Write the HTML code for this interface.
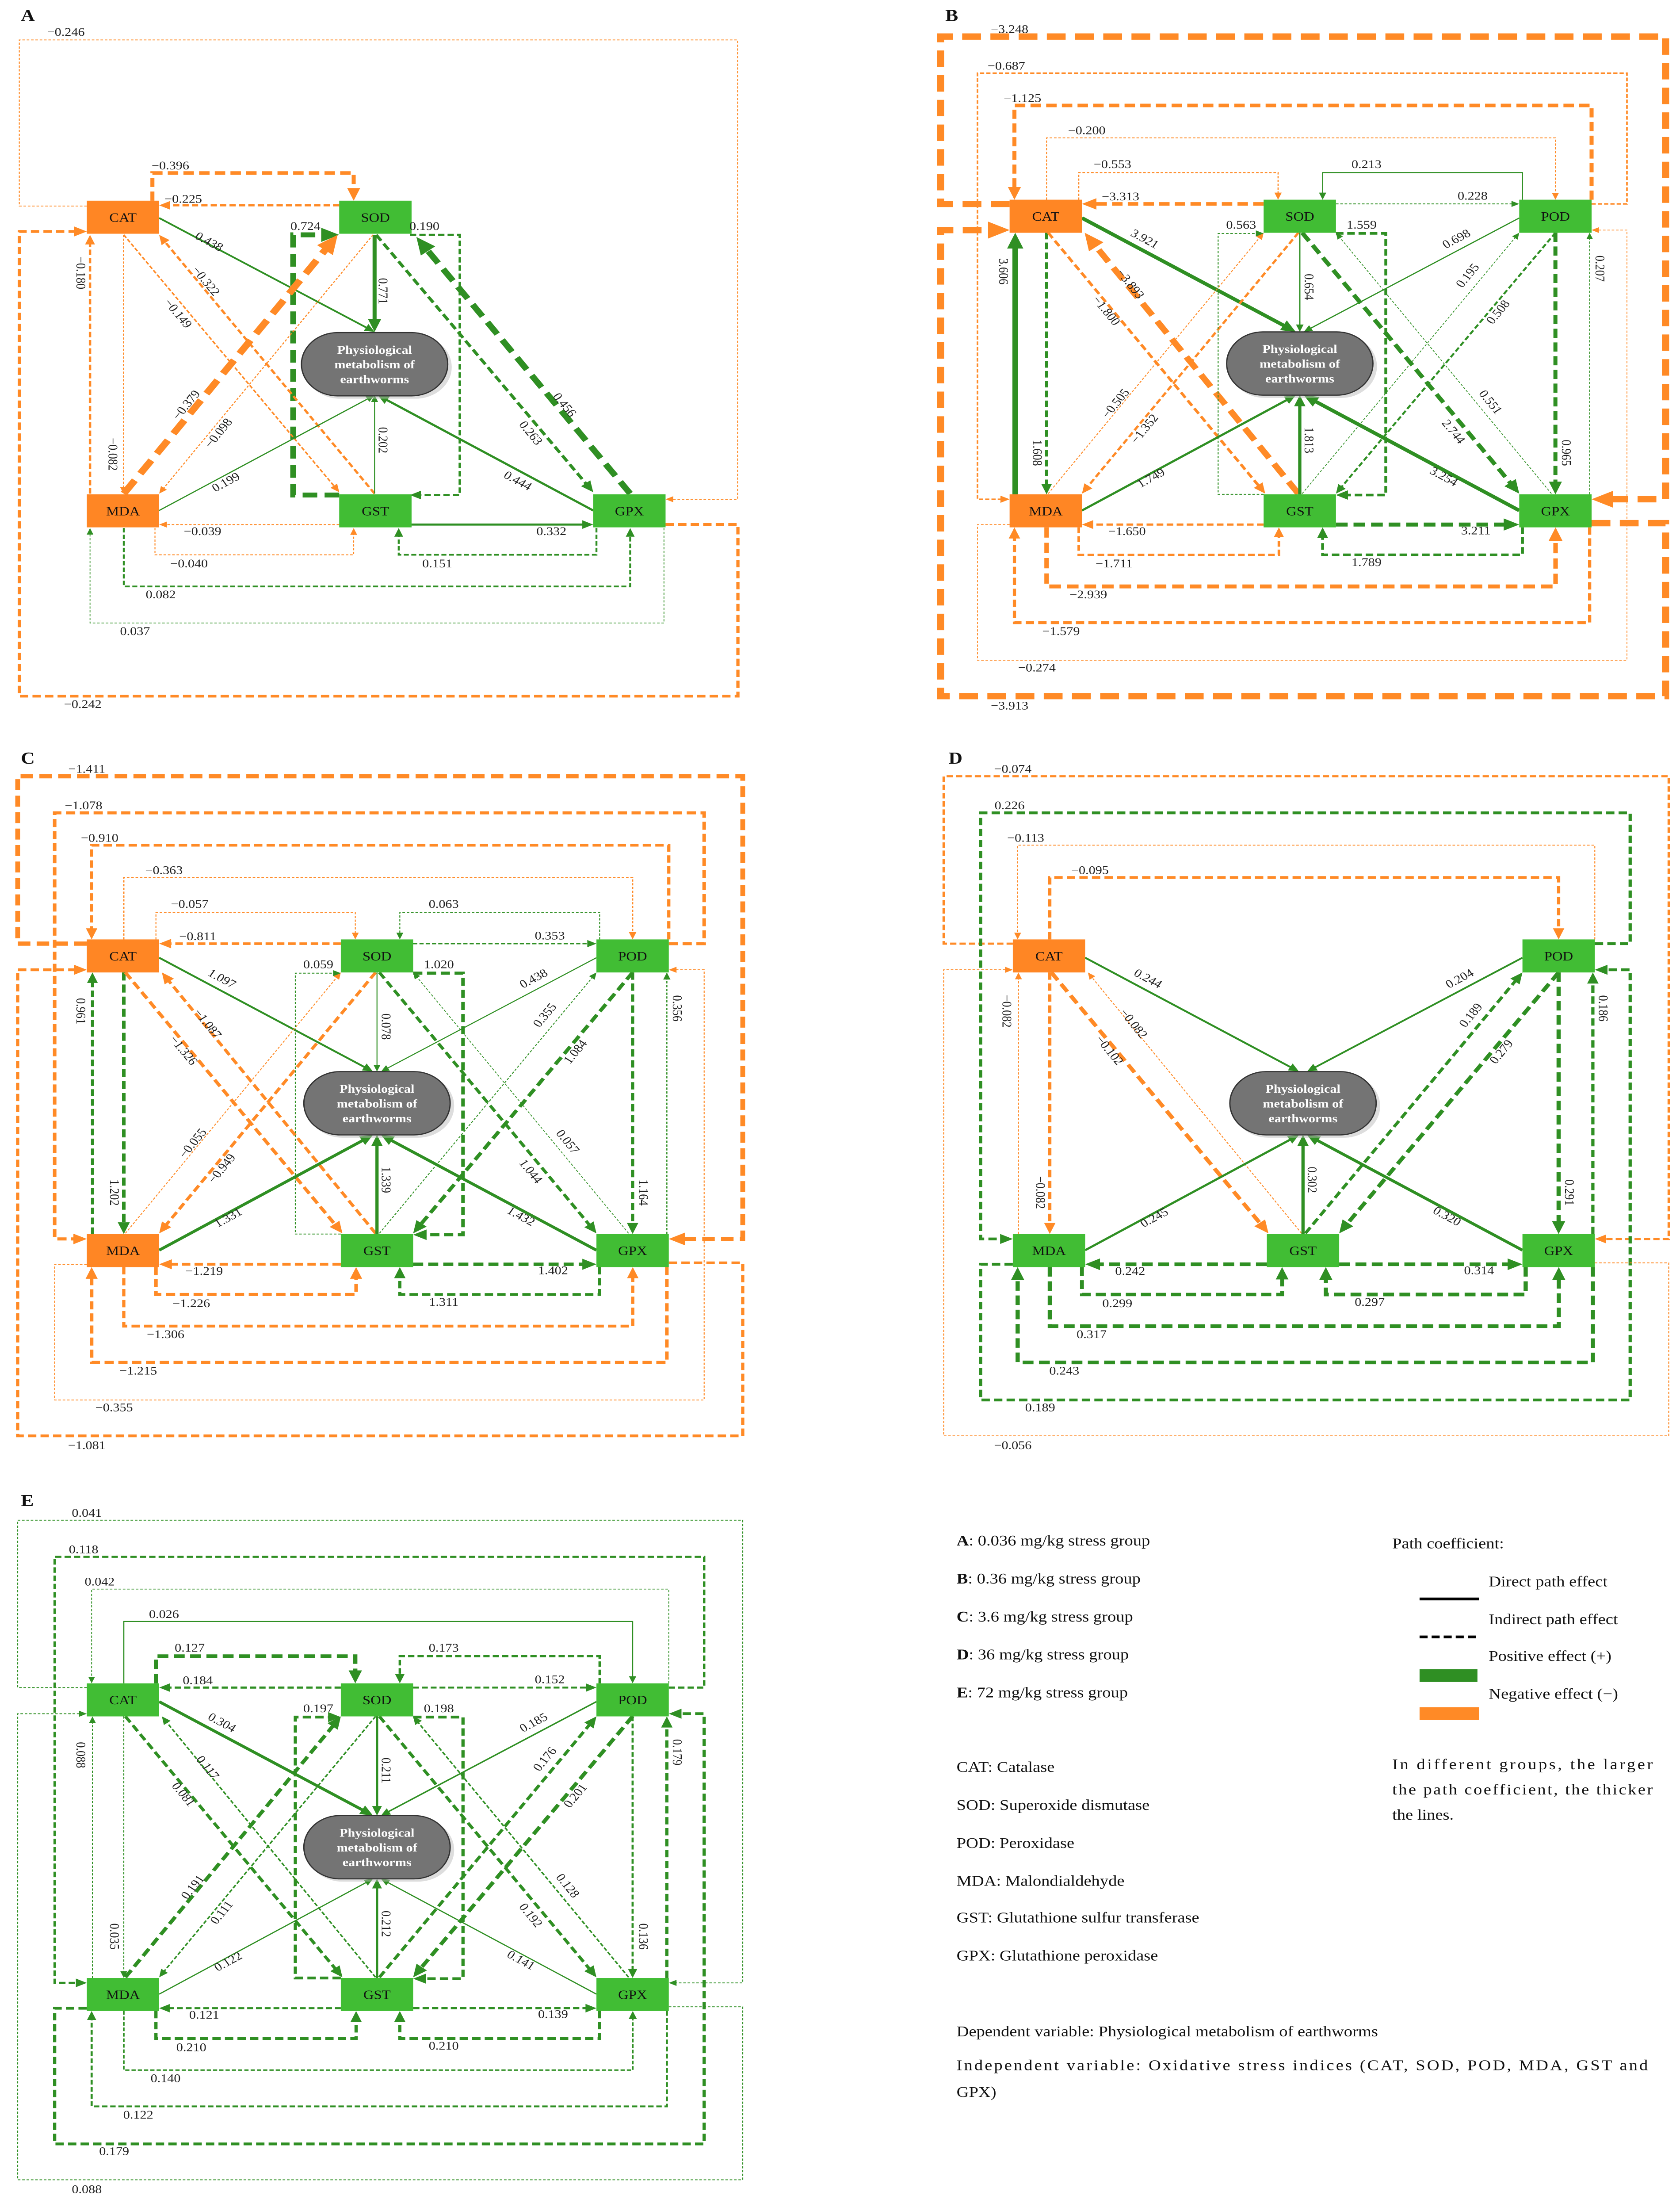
<!DOCTYPE html>
<html><head><meta charset="utf-8"><style>
html,body{margin:0;padding:0;background:#fff;width:100%;height:100%;overflow:hidden}
svg{display:block;width:100vw;height:100vh}
text{font-family:"Liberation Serif",serif}
</style></head><body>
<svg id="s" xmlns="http://www.w3.org/2000/svg" viewBox="0 0 1045 1572.2" preserveAspectRatio="none">
<rect width="1045" height="1572.2" fill="#fff"/>
<g id="lines"></g><g id="nodes"></g><g id="labels"></g>
<g font-size="10.6" fill="#111">
<text x="595" y="1099"><tspan font-weight="bold">A</tspan>: 0.036 mg/kg stress group</text>
<text x="595" y="1126"><tspan font-weight="bold">B</tspan>: 0.36 mg/kg stress group</text>
<text x="595" y="1153"><tspan font-weight="bold">C</tspan>: 3.6 mg/kg stress group</text>
<text x="595" y="1180"><tspan font-weight="bold">D</tspan>: 36 mg/kg stress group</text>
<text x="595" y="1207"><tspan font-weight="bold">E</tspan>: 72 mg/kg stress group</text>
<text x="595" y="1260">CAT: Catalase</text>
<text x="595" y="1287">SOD: Superoxide dismutase</text>
<text x="595" y="1314">POD: Peroxidase</text>
<text x="595" y="1341">MDA: Malondialdehyde</text>
<text x="595" y="1367">GST: Glutathione sulfur transferase</text>
<text x="595" y="1394">GPX: Glutathione peroxidase</text>
<text x="595" y="1448">Dependent variable: Physiological metabolism of earthworms</text>
<text x="595" y="1472" textLength="430" lengthAdjust="spacing">Independent variable: Oxidative stress indices (CAT, SOD, POD, MDA, GST and</text>
<text x="595" y="1491">GPX)</text>
<text x="866" y="1101">Path coefficient:</text>
<text x="926" y="1128">Direct path effect</text>
<text x="926" y="1155">Indirect path effect</text>
<text x="926" y="1181">Positive effect (+)</text>
<text x="926" y="1208">Negative effect (−)</text>
<text x="866" y="1258" textLength="162" lengthAdjust="spacing">In different groups, the larger</text>
<text x="866" y="1276" textLength="162" lengthAdjust="spacing">the path coefficient, the thicker</text>
<text x="866" y="1294">the lines.</text>
</g>
<line x1="883" y1="1137" x2="920" y2="1137" stroke="#000" stroke-width="2"/>
<line x1="883" y1="1164" x2="920" y2="1164" stroke="#000" stroke-width="2" stroke-dasharray="5,2.5"/>
<rect x="883" y="1187" width="36" height="9" fill="#2f8f23"/>
<rect x="883" y="1214" width="37" height="9" fill="#ff8a26"/>
<g font-size="12" font-weight="bold" fill="#111">
<text x="13" y="15">A</text><text x="588" y="15">B</text><text x="13" y="543">C</text><text x="590" y="543">D</text><text x="13" y="1071">E</text>
</g>
</svg>
<script>
const NS='http://www.w3.org/2000/svg';
const GL='#2f8f23',OL='#ff8a26',GF='#41bd34',OF='#ff8624';
const Lg=document.getElementById('lines'),Ng=document.getElementById('nodes'),Tg=document.getElementById('labels');
function el(t,a,p){const e=document.createElementNS(NS,t);for(const k in a)e.setAttribute(k,a[k]);p.appendChild(e);return e;}
function edge(pts,c,w,st){
 const n=pts.length;const [x2,y2]=pts[n-1],[x1,y1]=pts[n-2];
 const dx=x2-x1,dy=y2-y1,len=Math.hypot(dx,dy)||1,ux=dx/len,uy=dy/len;
 const L=w*2.2+3.5,W=L*0.45;
 const p=pts.map(q=>q.slice());p[n-1]=[x2-ux*L*0.8,y2-uy*L*0.8];
 const a={d:'M'+p.map(q=>q[0].toFixed(2)+','+q[1].toFixed(2)).join('L'),fill:'none',stroke:c,'stroke-width':w,'stroke-linejoin':'miter'};
 if(st!=='s'){a['stroke-dasharray']=w<=0.8?'1.6,1.1':(w*2.6).toFixed(2)+','+(w*1.3).toFixed(2);}
 el('path',a,Lg);
 const bx=x2-ux*L,by=y2-uy*L;
 el('polygon',{points:`${x2},${y2} ${bx-uy*W},${by+ux*W} ${bx+uy*W},${by-ux*W}`,fill:c},Lg);
}
function label(x,y,t,rot){
 const a={x:x,y:y,'font-size':8.3,'text-anchor':'middle','dominant-baseline':'central',fill:'#222'};
 if(rot)a.transform=`rotate(${rot} ${x} ${y})`;
 const e=el('text',a,Tg);e.textContent=t;
}
function node(x,y,t,col){el('rect',{x:x,y:y,width:45,height:23.5,fill:col},Ng);const e=el('text',{x:x+22.5,y:y+12,'font-size':9,'text-anchor':'middle','dominant-baseline':'central',fill:'#111'},Ng);e.textContent=t;}
function ell(cx,cy){
 el('rect',{x:cx-44,y:cy-20.5,width:92,height:45,rx:22.5,fill:'#bbb',opacity:0.5},Ng);
 el('rect',{x:cx-45.5,y:cy-22.5,width:91,height:45,rx:22.5,fill:'#747474',stroke:'#333','stroke-width':0.8},Ng);
 ['Physiological','metabolism of','earthworms'].forEach((s,i)=>{const e=el('text',{x:cx,y:cy-10+i*10.5,'font-size':8.3,'font-weight':'bold','text-anchor':'middle','dominant-baseline':'central',fill:'#fff'},Ng);e.textContent=s;});
}
function ang(pts){const a=pts[0],b=pts[pts.length-1];let d=Math.atan2(b[1]-a[1],b[0]-a[0])*180/Math.PI;if(d>90)d-=180;if(d<=-90)d+=180;return d;}
const T={
1:[[[628,145],[585,145],[585,26],[1036,26],[1036,355],[990,355]],628,21,0],
2:[[[990,145],[1012,145],[1012,52],[608,52],[608,355],[628,355]],626,47,0],
3:[[[990,142],[990,75],[631,75],[631,142]],636,70,0],
4:[[[651,142],[651,98],[967.5,98],[967.5,142]],676,93,0],
5:[[[671,142],[671,122.7],[795,122.7],[795,142]],692,117,0],
6:[[[786,145],[673,145]],697,140,0],
7:[[[947,142],[947,122.7],[822.7,122.7],[822.7,142]],850,117,0],
8:[[[831,145],[945,145]],916,139.5,0],
9:[[[673,155],[806,236]],712,170,'d'],
10:[[[631.5,351.5],[631.5,165.5]],624,193,90],
11:[[[651,165.5],[651,351.5]],645,322,90],
12:[[[652,165.5],[787,351]],688,221,'d'],
13:[[[807.6,351],[674.7,165.5]],703,202,'d'],
14:[[[807.6,165.5],[673,351]],712,305,'d'],
15:[[[652,351],[786,165.5]],694,287,'d'],
16:[[[786,351.5],[757.7,351.5],[757.7,166],[786,166]],772,160,0],
17:[[[831,166],[862,166],[862,352],[831,352]],847,160,0],
18:[[[808.5,165.5],[808.5,236]],814,204,90],
19:[[[945,155],[811,236]],906,170,'d'],
20:[[[810,351],[945,165.5]],913,196,'d'],
21:[[[967.5,165.5],[831,351]],932,222,'d'],
22:[[[810,165.5],[945,351]],904,307,'d'],
23:[[[965,351],[831,165.5]],927,286,'d'],
24:[[[967.5,165.5],[967.5,351.5]],974,322,90],
25:[[[988.8,351.5],[988.8,165.5]],995,191,90],
26:[[[628,373],[608,373],[608,469.5],[1012,469.5],[1012,163.6],[990,163.6]],645,475,0],
27:[[[808.5,351.5],[808.5,281]],814,313,90],
28:[[[673,363],[806,281]],716,340,'d'],
29:[[[945,363],[811,281]],898,339,'d'],
30:[[[831,373],[945,373]],918,377.5,0],
31:[[[947,375],[947,394.5],[822.7,394.5],[822.7,375]],850,400,0],
32:[[[786,373],[673,373]],701,378,0],
33:[[[671,375],[671,394.5],[795.5,394.5],[795.5,375]],693,401,0],
34:[[[651,375],[651,417],[967.6,417],[967.6,375]],677,423,0],
35:[[[988.8,375],[988.8,442.8],[631,442.8],[631,375]],660,449,0],
36:[[[990,372],[1036,372],[1036,495],[585,495],[585,163.6],[628,163.6]],628,502,0]};
const SOLID=[9,18,19,27,28,29];
function panel(ox,oy,spec,cols,hasSOD){
 const sh=pts=>pts.map(q=>[q[0]+ox,q[1]+oy]);
 for(const s of spec){const [id,c,w,lab,st]=s;const t=T[id];const pts=sh(t[0]);
  const style=st||(SOLID.includes(id)?'s':'d');
  edge(pts,c==='g'?GL:OL,w,style);
  const r=t[3]==='d'?ang(pts):t[3];label(t[1]+ox,t[2]+oy,lab,r);}
 const pos={CAT:[628,142],SOD:[786,142],POD:[945,142],MDA:[628,351.5],GST:[786,351.5],GPX:[945,351.5]};
 for(const k in pos){if(k==='SOD'&&!hasSOD)continue;node(pos[k][0]+ox,pos[k][1]+oy,k,cols.includes(k)?OF:GF);}
 ell(808.5+ox,258.5+oy);
}
const B=[[1,'o',4.5,'−3.248'],[2,'o',1,'−0.687'],[3,'o',2.5,'−1.125'],[4,'o',0.6,'−0.200'],[5,'o',0.7,'−0.553'],[6,'o',2.5,'−3.313'],[7,'g',0.7,'0.213','s'],[8,'g',0.6,'0.228'],[9,'g',2.5,'3.921'],[10,'g',3.5,'3.606','s'],[11,'g',1.8,'1.608'],[12,'o',1.8,'−1.800'],[13,'o',4,'−3.893'],[14,'o',1.5,'−1.352'],[15,'o',0.6,'−0.505'],[16,'g',0.6,'0.563'],[17,'g',1.8,'1.559'],[18,'g',0.8,'0.654'],[19,'g',0.8,'0.698'],[20,'g',0.5,'0.195'],[21,'g',1.3,'0.508'],[22,'g',2.8,'2.744'],[23,'g',0.5,'0.551'],[24,'g',2.5,'0.965'],[25,'g',0.5,'0.207'],[26,'o',0.5,'−0.274'],[27,'g',2,'1.813'],[28,'g',1.5,'1.749'],[29,'g',2.5,'3.254'],[30,'g',2.8,'3.211'],[31,'g',1.8,'1.789'],[32,'o',1.6,'−1.650'],[33,'o',1.6,'−1.711'],[34,'o',2.8,'−2.939'],[35,'o',2,'−1.579'],[36,'o',4.5,'−3.913']];
const C=[[1,'o',3,'−1.411'],[2,'o',2.2,'−1.078'],[3,'o',2,'−0.910'],[4,'o',0.8,'−0.363'],[5,'o',0.6,'−0.057'],[6,'o',1.8,'−0.811'],[7,'g',0.6,'0.063'],[8,'g',1,'0.353'],[9,'g',1.3,'1.097'],[10,'g',1.8,'0.961'],[11,'g',2.2,'1.202'],[12,'o',2.2,'−1.326'],[13,'o',2,'−1.087'],[14,'o',2,'−0.949'],[15,'o',0.6,'−0.055'],[16,'g',0.6,'0.059'],[17,'g',2.2,'1.020'],[18,'g',0.6,'0.078'],[19,'g',0.7,'0.438'],[20,'g',0.6,'0.355'],[21,'g',2.4,'1.084'],[22,'g',2,'1.044'],[23,'g',0.5,'0.057'],[24,'g',2,'1.164'],[25,'g',0.7,'0.356'],[26,'o',0.6,'−0.355'],[27,'g',2,'1.339'],[28,'g',2,'1.331'],[29,'g',2,'1.432'],[30,'g',2.4,'1.402'],[31,'g',2,'1.311'],[32,'o',2,'−1.219'],[33,'o',2.2,'−1.226'],[34,'o',2,'−1.306'],[35,'o',2.2,'−1.215'],[36,'o',2,'−1.081']];
const D=[[1,'o',1.5,'−0.074'],[2,'g',2,'0.226'],[3,'o',0.6,'−0.113'],[4,'o',2,'−0.095'],[9,'g',1.3,'0.244'],[10,'o',0.6,'−0.082'],[11,'o',2,'−0.082'],[12,'o',2.6,'−0.102'],[13,'o',0.6,'−0.082'],[19,'g',1.2,'0.204'],[20,'g',2,'0.189'],[21,'g',2.6,'0.279'],[24,'g',2.6,'0.291'],[25,'g',2,'0.186'],[26,'g',2,'0.189'],[27,'g',2,'0.302'],[28,'g',1.5,'0.245'],[29,'g',2,'0.320'],[30,'g',2.6,'0.314'],[31,'g',2.6,'0.297'],[32,'g',2.6,'0.242'],[33,'g',2.4,'0.299'],[34,'g',2.6,'0.317'],[35,'g',2.6,'0.243'],[36,'o',0.6,'−0.056']];
const E=[[1,'g',0.6,'0.041'],[2,'g',1.5,'0.118'],[3,'g',0.5,'0.042'],[4,'g',0.7,'0.026','s'],[5,'g',2.6,'0.127'],[6,'g',1.5,'0.184'],[7,'g',1.5,'0.173'],[8,'g',1.4,'0.152'],[9,'g',2,'0.304'],[10,'g',0.6,'0.088'],[11,'g',0.6,'0.035'],[12,'g',2,'0.081'],[13,'g',1,'0.117'],[14,'g',1,'0.111'],[15,'g',2.4,'0.191'],[16,'g',2,'0.197'],[17,'g',2,'0.198'],[18,'g',1.5,'0.211'],[19,'g',1,'0.185'],[20,'g',2,'0.176'],[21,'g',2.5,'0.201'],[22,'g',2,'0.192'],[23,'g',1,'0.128'],[24,'g',1.3,'0.136'],[25,'g',2,'0.179'],[26,'g',2,'0.179'],[27,'g',1.5,'0.212'],[28,'g',0.8,'0.122'],[29,'g',0.8,'0.141'],[30,'g',1.5,'0.139'],[31,'g',2,'0.210'],[32,'g',1.4,'0.121'],[33,'g',2,'0.210'],[34,'g',1,'0.140'],[35,'g',1.3,'0.122'],[36,'g',0.6,'0.088']];
panel(0,0,B,['CAT','MDA'],true);
panel(-574,526,C,['CAT','MDA'],true);
panel(2,526,D,['CAT'],false);
panel(-574,1055,E,[],true);
const A=[
[[[54,146.5],[12,146.5],[12,28.4],[458.8,28.4],[458.8,355],[414,355]],'o',0.6,'d','−0.246',41,23,0],
[[[94.8,142.7],[94.8,123],[220,123],[220,142.7]],'o',2.5,'d','−0.396',106,118,0],
[[[211,146],[99,146]],'o',1.5,'d','−0.225',114,141.7,0],
[[[211,352],[182.3,352],[182.3,167],[211,167]],'g',3.5,'d','0.724',190,161,0],
[[[255,167],[286,167],[286,352],[255,352]],'g',1.5,'d','0.190',264,161,0],
[[[99,155],[233,236]],'g',1.2,'s','0.438',130,172,'d'],
[[[233,167],[233,236]],'g',2.5,'s','0.771',238,207,90],
[[[56,351],[56,167]],'o',1.5,'d','−0.180',50,194,90],
[[[76.8,167],[76.8,351]],'o',0.6,'d','−0.082',70,323,90],
[[[77,167],[211,350]],'o',1,'d','−0.149',110.6,223,'d'],
[[[233,351],[99,167]],'o',1.5,'d','−0.322',128,200,'d'],
[[[77,351],[210,167]],'o',4.5,'d','−0.379',116,288,'d'],
[[[232,167],[99,351]],'o',0.7,'d','−0.098',136,308,'d'],
[[[99,363],[233,281]],'g',0.8,'s','0.199',140.6,343,'d'],
[[[233,351],[233,281]],'g',0.6,'s','0.202',238,313,90],
[[[369,363],[235,281]],'g',1.5,'s','0.444',322,342,'d'],
[[[234,167],[369,350]],'g',2,'d','0.263',330,308,'d'],
[[[392,351],[259,168.5]],'g',4,'d','0.456',351,288,'d'],
[[[255,373],[369,373]],'g',1.5,'s','0.332',343,378,0],
[[[211,373],[99,373]],'o',0.6,'d','−0.039',126,378,0],
[[[96.4,375.5],[96.4,394.5],[220,394.5],[220,375.5]],'o',0.6,'d','−0.040',117.6,401,0],
[[[371,375.5],[371,394.5],[248,394.5],[248,375.5]],'g',1.2,'d','0.151',272,401,0],
[[[77,375.5],[77,417],[392,417],[392,375.5]],'g',1.2,'d','0.082',100,423,0],
[[[413,375.5],[413,443],[56,443],[56,375.5]],'g',0.5,'d','0.037',84,449,0],
[[[414,373],[459,373],[459,495],[12,495],[12,164.6],[54,164.6]],'o',2,'d','−0.242',51.5,501,0]];
for(const a of A){edge(a[0],a[1]==='g'?GL:OL,a[2],a[3]);label(a[5],a[6],a[4],a[7]==='d'?ang(a[0]):a[7]);}
node(54,142.7,'CAT',OF);node(211,142.7,'SOD',GF);node(54,351.5,'MDA',OF);node(211,351.5,'GST',GF);node(369,351.5,'GPX',GF);
ell(233,259);
</script>
</body></html>
